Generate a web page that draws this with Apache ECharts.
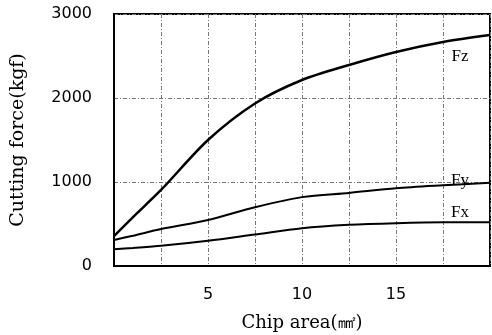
<!DOCTYPE html>
<html>
<head>
<meta charset="utf-8">
<script src="https://cdn.jsdelivr.net/npm/echarts@6/dist/echarts.min.js"></script>
<style>
  html, body { margin: 0; padding: 0; background: #fff; }
  #chart { width: 492px; height: 335px; }
</style>
</head>
<body>
<div id="chart"></div>
<script>
// chip area (mm2)
var chipArea = [0, 1, 2.5, 5, 7.5, 10, 12.5, 15, 17.5, 20];
// cutting forces (kgf)
var fz = [357, 580, 905, 1500, 1935, 2214, 2393, 2548, 2667, 2750];
var fy = [310, 360, 440, 548, 700, 820, 870, 925, 960, 990];
var fx = [200, 215, 240, 300, 375, 450, 490, 510, 520, 520];
var seriesNames = ['Fz', 'Fy', 'Fx'];
var xTickLabels = [5, 10, 15];

var myChart = echarts.init(document.getElementById('chart'));

function pairs(ys) {
    return chipArea.map(function (x, i) { return [x, ys[i]]; });
}

// name label hangs next to the point at x=17.5 like in the original figure
function makeSeries(name, ys, width, offset) {
    return {
        name: name,
        type: 'line',
        smooth: 0.3,
        symbol: 'none',
        lineStyle: { color: '#000', width: width },
        markPoint: {
            symbol: 'circle',
            symbolSize: 0,
            silent: true,
            label: {
                show: true,
                formatter: name,
                position: 'inside',
                offset: offset,
                fontFamily: 'Liberation Serif',
                fontSize: 17,
                color: '#000'
            },
            data: [{ coord: [chipArea[8], ys[8]] }]
        },
        data: pairs(ys)
    };
}

var gridLine = { show: true, lineStyle: { color: '#777', width: 1, type: [4, 2, 1, 2] } };

var option = {
    animation: false,
    grid: {
        left: 114, right: 2, top: 14, bottom: 69,
        outerBoundsMode: 'none',
        containLabel: false,
        show: true, borderColor: '#000', borderWidth: 2
    },
    xAxis: {
        type: 'value',
        min: 0, max: 20, interval: 2.5,
        name: 'Chip area(㎟)',
        nameLocation: 'middle',
        nameGap: 48,
        nameTextStyle: { fontFamily: 'DejaVu Serif', fontSize: 18, color: '#000' },
        axisLine: { lineStyle: { color: '#000', width: 2 } },
        axisTick: { show: false },
        axisLabel: {
            margin: 21,
            fontFamily: 'DejaVu Sans', fontSize: 16, color: '#000',
            formatter: function (v) { return xTickLabels.indexOf(v) >= 0 ? String(v) : ''; }
        },
        splitLine: gridLine
    },
    yAxis: {
        type: 'value',
        min: 0, max: 3000, interval: 1000,
        name: 'Cutting force(kgf)',
        nameLocation: 'middle',
        nameRotate: 90,
        nameGap: 86,
        nameTextStyle: { fontFamily: 'DejaVu Serif', fontSize: 19, color: '#000' },
        axisLine: { show: true, lineStyle: { color: '#000', width: 2 } },
        axisTick: { show: false },
        axisLabel: {
            margin: 22, fontFamily: 'DejaVu Sans', fontSize: 16, color: '#000',
            formatter: function (v) { return String(v); }
        },
        splitLine: gridLine
    },
    series: [
        makeSeries(seriesNames[0], fz, 2.5, [17, 15]),
        makeSeries(seriesNames[1], fy, 2, [17, -5]),
        makeSeries(seriesNames[2], fx, 2, [17, -10])
    ]
};

myChart.setOption(option);
</script>
</body>
</html>
